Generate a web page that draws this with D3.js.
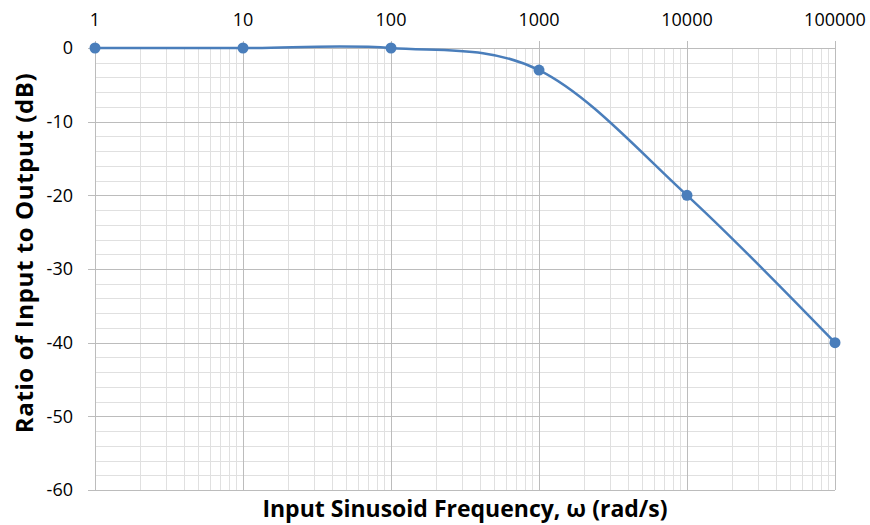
<!DOCTYPE html>
<html>
<head>
<meta charset="utf-8">
<script src="https://cdn.jsdelivr.net/npm/d3@7"></script>
<style>
  body { margin: 0; background: #fff; }
  text { font-family: "Open Sans", "Noto Sans", sans-serif; fill: #000; }
</style>
</head>
<body>
<svg id="chart" width="870" height="525"></svg>
<script>
// data
var frequency = [1, 10, 100, 1000, 10000, 100000];
var gainDb = [0, 0, 0, -3, -20, -40];
var xTickLabels = ["1", "10", "100", "1000", "10000", "100000"];
var yTicks = [0, -10, -20, -30, -40, -50, -60];

var margin = {left: 95, right: 35, top: 48, bottom: 35};
var W = 870, H = 525;

var svg = d3.select("#chart");

var x = d3.scaleLog().domain([1, 100000]).range([margin.left, W - margin.right]);
var y = d3.scaleLinear().domain([-60, 0]).range([H - margin.bottom, margin.top]);

var grid = svg.append("g");

// minor horizontal lines every 2 dB
d3.range(-58, 0, 2).filter(function (v) { return v % 10 !== 0; }).forEach(function (v) {
  grid.append("line")
    .attr("x1", x(1)).attr("x2", x(100000))
    .attr("y1", Math.round(y(v)) + 0.5).attr("y2", Math.round(y(v)) + 0.5)
    .attr("stroke", "#e0e0e0").attr("stroke-width", 1);
});

// minor vertical lines 2..9 per decade
d3.range(0, 5).forEach(function (d) {
  d3.range(2, 10).forEach(function (m) {
    var px = Math.round(x(m * Math.pow(10, d))) + 0.5;
    grid.append("line")
      .attr("x1", px).attr("x2", px)
      .attr("y1", y(0)).attr("y2", y(-60))
      .attr("stroke", "#e0e0e0").attr("stroke-width", 1);
  });
});

// major horizontal lines
yTicks.forEach(function (v) {
  grid.append("line")
    .attr("x1", x(1) - 7).attr("x2", x(100000))
    .attr("y1", Math.round(y(v)) + 0.5).attr("y2", Math.round(y(v)) + 0.5)
    .attr("stroke", "#bcbcbc").attr("stroke-width", 1);
});

// major vertical lines (with tick above the top axis)
frequency.forEach(function (f) {
  var px = Math.round(x(f)) + 0.5;
  grid.append("line")
    .attr("x1", px).attr("x2", px)
    .attr("y1", y(0) - 7).attr("y2", y(-60))
    .attr("stroke", "#bcbcbc").attr("stroke-width", 1);
});

// y tick labels
svg.append("g").selectAll("text").data(yTicks).join("text")
  .attr("x", 73)
  .attr("y", function (d) { return y(d); })
  .attr("dy", "0.35em")
  .attr("text-anchor", "end")
  .attr("font-size", 18)
  .text(function (d) { return d; });

// x tick labels along the top
svg.append("g").selectAll("text").data(frequency).join("text")
  .attr("x", function (d) { return x(d); })
  .attr("y", 20)
  .attr("dy", "0.35em")
  .attr("text-anchor", "middle")
  .attr("font-size", 18)
  .text(function (d, i) { return xTickLabels[i]; });

// series
var pts = frequency.map(function (f, i) { return [f, gainDb[i]]; });

var line = d3.line()
  .x(function (d) { return x(d[0]); })
  .y(function (d) { return y(d[1]); })
  .curve(d3.curveCatmullRom.alpha(0));

svg.append("path")
  .datum(pts)
  .attr("d", line)
  .attr("fill", "none")
  .attr("stroke", "#4a7ebb")
  .attr("stroke-width", 2.5);

svg.append("g").selectAll("circle").data(pts).join("circle")
  .attr("cx", function (d) { return x(d[0]); })
  .attr("cy", function (d) { return y(d[1]); })
  .attr("r", 5.5)
  .attr("fill", "#4a7ebb");

// axis titles
svg.append("text")
  .attr("x", (x(1) + x(100000)) / 2)
  .attr("y", 517)
  .attr("text-anchor", "middle")
  .attr("font-size", 23)
  .attr("font-weight", "bold")
  .text("Input Sinusoid Frequency, ω (rad/s)");

svg.append("text")
  .attr("transform", "translate(25,253) rotate(-90)")
  .attr("dy", "0.35em")
  .attr("text-anchor", "middle")
  .attr("font-size", 24)
  .attr("letter-spacing", 0.6)
  .attr("font-weight", "bold")
  .text("Ratio of Input to Output (dB)");
</script>
</body>
</html>
